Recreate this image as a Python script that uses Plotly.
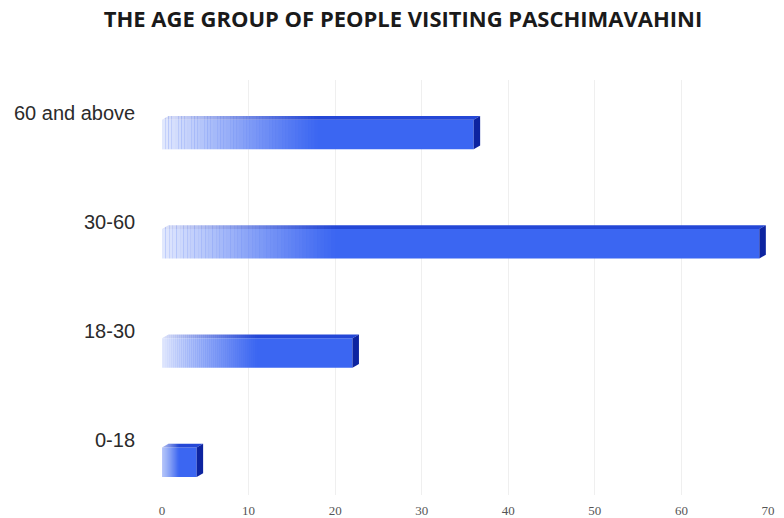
import plotly.graph_objects as go

categories = ["0-18", "18-30", "30-60", "60 and above"]
values = [4, 22, 69, 36]
x_ticks = [0, 10, 20, 30, 40, 50, 60, 70]

FRONT = "#3b66f2"
TOP = "#2447d6"
SIDE = "#0d24a0"
BAR_W = 0.27
DX = 0.75    # 3D depth in x units
DY = 0.035   # 3D depth in y units

fig = go.Figure()
fig.add_trace(go.Bar(
    x=values, y=list(range(len(categories))), orientation="h",
    width=BAR_W, marker=dict(color=FRONT, line=dict(width=0)),
    hoverinfo="skip", showlegend=False,
))

shapes = []
for i, v in enumerate(values):
    top = i + BAR_W / 2
    bot = i - BAR_W / 2
    # top face
    shapes.append(dict(type="path", xref="x", yref="y",
                       path=f"M 0,{top} L {v},{top} L {v+DX},{top+DY} L {DX},{top+DY} Z",
                       fillcolor=TOP, line=dict(width=0), layer="above"))
    # side face
    shapes.append(dict(type="path", xref="x", yref="y",
                       path=f"M {v},{bot} L {v},{top} L {v+DX},{top+DY} L {v+DX},{bot+DY} Z",
                       fillcolor=SIDE, line=dict(width=0), layer="above"))
    # left fade
    fade = min(0.5 * v, 20)
    steps = 48
    for s in range(steps):
        x0 = fade * s / steps
        x1 = fade * (s + 1) / steps
        op = 0.85 * (1 - s / steps) ** 1.1
        shapes.append(dict(type="rect", xref="x", yref="y",
                           x0=x0, x1=x1, y0=bot - 0.005, y1=top + DY + 0.005,
                           fillcolor="white", opacity=op, line=dict(width=0), layer="above"))

annotations = []
for i, c in enumerate(categories):
    annotations.append(dict(text=c, xref="paper", yref="y", x=-0.041, y=i,
                            xanchor="right", yanchor="middle", yshift=22,
                            showarrow=False,
                            font=dict(family="Liberation Sans", size=20, color="#2b2b2b")))

fig.update_layout(
    width=784, height=518,
    margin=dict(l=162, r=16, t=80, b=23, autoexpand=False),
    paper_bgcolor="white", plot_bgcolor="white",
    title=dict(text="<b>THE AGE GROUP OF PEOPLE VISITING PASCHIMAVAHINI</b>",
               x=403 / 784, xanchor="center", y=1 - 19 / 518, yanchor="middle",
               font=dict(family="Open Sans", size=22, color="#1a1a1a")),
    xaxis=dict(range=[0, 70], tickvals=x_ticks, showgrid=True, gridcolor="#efefef",
               gridwidth=1, zeroline=False, showline=False, automargin=False,
               tickfont=dict(family="Liberation Serif", size=13, color="#555555"),
               ticks="", ticklabelstandoff=6),
    yaxis=dict(range=[-0.3, 3.5], showticklabels=False, showgrid=False,
               zeroline=False, showline=False, ticks="", automargin=False),
    shapes=shapes, annotations=annotations,
)

fig.write_html("out.html")
